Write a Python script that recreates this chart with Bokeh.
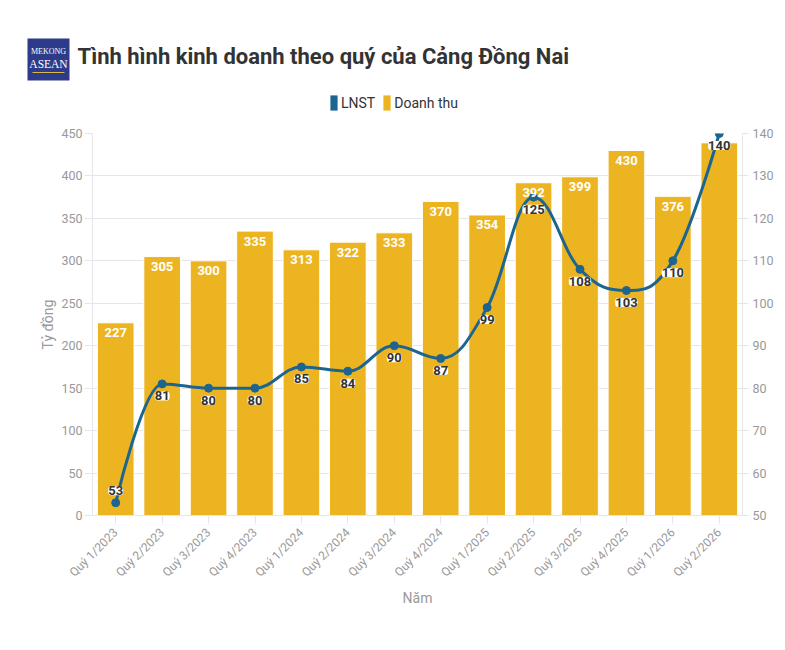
import math
from bokeh.plotting import figure
from bokeh.layouts import column
from bokeh.models import (ColumnDataSource, Range1d, LinearAxis, FactorRange,
                          Legend, LegendItem, SingleIntervalTicker)
from bokeh.core.properties import value
from bokeh.embed import file_html
from bokeh.resources import INLINE

# ---- data ----
quarters = ["Quý 1/2023", "Quý 2/2023", "Quý 3/2023", "Quý 4/2023",
            "Quý 1/2024", "Quý 2/2024", "Quý 3/2024", "Quý 4/2024",
            "Quý 1/2025", "Quý 2/2025", "Quý 3/2025", "Quý 4/2025",
            "Quý 1/2026", "Quý 2/2026"]
doanh_thu = [227, 305, 300, 335, 313, 322, 333, 370, 354, 392, 399, 430, 376, 439]
lnst = [53, 81, 80, 80, 85, 84, 90, 87, 99, 125, 108, 103, 110, 140]

title_text = "Tình hình kinh doanh theo quý của Cảng Đồng Nai"
left_label = "Tỷ đồng"
bottom_label = "Năm"
series_names = ["LNST", "Doanh thu"]

BAR_COLOR = "#EDB421"
LINE_COLOR = "#1C6591"
GRID = "#e6e6e6"
TICK_TXT = "#999999"
FONT = "Roboto"

LEFT_MIN, LEFT_MAX = 0, 450
RIGHT_MIN, RIGHT_MAX = 50, 140
FRAME_W, FRAME_H = 650, 382
HEADER_W, HEADER_H = 777, 120


def spline_controls(xs, ys, smoothing=1.5):
    """Highcharts-style spline control points."""
    n = len(xs)
    denom = smoothing + 1
    lcx, lcy, rcx, rcy = list(xs), list(ys), list(xs), list(ys)
    for i in range(1, n - 1):
        x, y = xs[i], ys[i]
        lx, ly = xs[i - 1], ys[i - 1]
        nx, ny = xs[i + 1], ys[i + 1]
        lX = (smoothing * x + lx) / denom
        lY = (smoothing * y + ly) / denom
        rX = (smoothing * x + nx) / denom
        rY = (smoothing * y + ny) / denom
        if rX != lX:
            corr = ((rY - lY) * (rX - x)) / (rX - lX) + y - rY
            lY += corr
            rY += corr
        if lY > ly and lY > y:
            lY = max(ly, y); rY = 2 * y - lY
        elif lY < ly and lY < y:
            lY = min(ly, y); rY = 2 * y - lY
        if rY > ny and rY > y:
            rY = max(ny, y); lY = 2 * y - rY
        elif rY < ny and rY < y:
            rY = min(ny, y); lY = 2 * y - rY
        lcx[i], lcy[i], rcx[i], rcy[i] = lX, lY, rX, rY
    seg = dict(x0=[], y0=[], x1=[], y1=[], cx0=[], cy0=[], cx1=[], cy1=[])
    for i in range(1, n):
        seg["x0"].append(xs[i - 1]); seg["y0"].append(ys[i - 1])
        seg["x1"].append(xs[i]); seg["y1"].append(ys[i])
        seg["cx0"].append(rcx[i - 1]); seg["cy0"].append(rcy[i - 1])
        seg["cx1"].append(lcx[i]); seg["cy1"].append(lcy[i])
    return seg


# label placement (below the point unless it would leave the plot)
line_px = [(v - RIGHT_MIN) / (RIGHT_MAX - RIGHT_MIN) * FRAME_H for v in lnst]
line_off = [-12 if px < 20 else 12 for px in line_px]
bar_px = [v / (LEFT_MAX - LEFT_MIN) * FRAME_H - 10 for v in doanh_thu]
bar_txt = []
for b, lp, off, v in zip(bar_px, line_px, line_off, doanh_thu):
    lab_px = lp - off
    bar_txt.append("" if abs(b - lab_px) < 13 else str(v))

src = ColumnDataSource(dict(q=quarters, dt=doanh_thu, ln=lnst,
                            dt_txt=bar_txt, ln_txt=[str(v) for v in lnst],
                            ln_off=line_off))

# ================= header (logo, title, legend) =================
h = figure(x_range=Range1d(0, HEADER_W), y_range=Range1d(HEADER_H, 0),
           width=HEADER_W, height=HEADER_H,
           min_border_left=0, min_border_right=0, min_border_top=0, min_border_bottom=0,
           x_axis_location=None, y_axis_location=None,
           output_backend="svg", toolbar_location=None,
           background_fill_color="white", border_fill_color="white",
           outline_line_color=None, frame_align=False)
h.grid.visible = False
# logo
h.quad(left=[27], right=[69], top=[38], bottom=[80], fill_color="#2D3B8A", line_color=None)
h.quad(left=[32], right=[64], top=[71.5], bottom=[72.5], fill_color="#D9B84A", line_color=None)
h.text(x=[48], y=[51], text=["MEKONG"], text_align="center", text_baseline="middle",
       text_color="white", text_font_size="8px", text_font=value("Liberation Serif"))
h.text(x=[48], y=[63.5], text=["ASEAN"], text_align="center", text_baseline="middle",
       text_color="white", text_font_size="11.5px", text_font=value("Liberation Serif"))
# title
h.text(x=[77], y=[56], text=[title_text], text_align="left", text_baseline="alphabetic",
       text_color="#333333", text_font_size="22px", text_font_style="bold",
       text_font=value(FONT))
# legend swatches (legend-only renderers, their single mark lies outside the view)
sw_line = h.vbar(x=[-100], top=[-90], bottom=[-100], width=1, fill_color=LINE_COLOR,
                 line_color=None, border_radius=3)
sw_bar = h.vbar(x=[-100], top=[-90], bottom=[-100], width=1, fill_color=BAR_COLOR,
                line_color=None, border_radius=3)
legend = Legend(items=[LegendItem(label=series_names[0], renderers=[sw_line]),
                       LegendItem(label=series_names[1], renderers=[sw_bar])],
                orientation="horizontal", location=(329, 8),
                glyph_width=9, glyph_height=19, label_standoff=3, spacing=7,
                padding=0, margin=0, border_line_color=None,
                background_fill_alpha=0, label_text_font_size="14px",
                label_text_color="#333333", label_text_font=FONT, label_height=19,
                label_text_baseline="middle")
h.add_layout(legend)

# ================= main chart =================
p = figure(x_range=FactorRange(factors=quarters, range_padding=0, factor_padding=0),
           y_range=Range1d(LEFT_MIN, LEFT_MAX),
           frame_width=FRAME_W, frame_height=FRAME_H,
           min_border_left=92, min_border_right=35, min_border_top=133 - HEADER_H,
           min_border_bottom=127,
           output_backend="svg", toolbar_location=None,
           background_fill_color="white", border_fill_color="white",
           outline_line_color=None, frame_align=False)
p.extra_y_ranges = {"right": Range1d(RIGHT_MIN, RIGHT_MAX)}

p.xgrid.grid_line_color = None
p.ygrid.grid_line_color = GRID
p.ygrid.ticker = SingleIntervalTicker(interval=50)

ya = p.yaxis[0]
ya.ticker = SingleIntervalTicker(interval=50)
ya.axis_line_color = GRID
ya.major_tick_line_color = GRID
ya.major_tick_out = 8
ya.major_tick_in = 0
ya.minor_tick_line_color = None
ya.major_label_standoff = 2
ya.major_label_text_color = TICK_TXT
ya.major_label_text_font_size = "12.5px"
ya.major_label_text_font = FONT
ya.axis_label = left_label
ya.axis_label_text_color = TICK_TXT
ya.axis_label_text_font_size = "14px"
ya.axis_label_text_font_style = "normal"
ya.axis_label_text_font = FONT
ya.axis_label_standoff = 2

ra = LinearAxis(y_range_name="right", ticker=SingleIntervalTicker(interval=10))
ra.axis_line_color = GRID
ra.major_tick_line_color = GRID
ra.major_tick_out = 6
ra.major_tick_in = 0
ra.minor_tick_line_color = None
ra.major_label_standoff = 4
ra.major_label_text_color = TICK_TXT
ra.major_label_text_font_size = "12.5px"
ra.major_label_text_font = FONT
p.add_layout(ra, "right")

xa = p.xaxis[0]
xa.axis_line_color = GRID
xa.major_tick_line_color = GRID
xa.major_tick_out = 8
xa.major_tick_in = 0
xa.major_label_orientation = math.pi / 4
xa.major_label_standoff = 7
xa.major_label_text_color = TICK_TXT
xa.major_label_text_font_size = "12px"
xa.major_label_text_font = FONT
xa.axis_label = bottom_label
xa.axis_label_text_color = TICK_TXT
xa.axis_label_text_font_size = "14px"
xa.axis_label_text_font_style = "normal"
xa.axis_label_text_font = FONT
xa.axis_label_standoff = 3

# series marks
bars = p.vbar(x="q", top="dt", width=0.79, source=src,
              fill_color=BAR_COLOR, line_color="white", line_width=1)
xs = [i + 0.5 for i in range(len(lnst))]
seg = spline_controls(xs, lnst)
p.bezier(x0="x0", y0="y0", x1="x1", y1="y1", cx0="cx0", cy0="cy0", cx1="cx1", cy1="cy1",
         source=ColumnDataSource(seg), y_range_name="right",
         line_color=LINE_COLOR, line_width=3)
p.scatter(x="q", y="ln", source=src, y_range_name="right", size=8,
          fill_color=LINE_COLOR, line_color=LINE_COLOR)

# data labels (drawn above all series)
p.text(x="q", y="dt", text="dt_txt", source=src, text_align="center",
       text_baseline="middle", y_offset=10, text_color="white",
       text_font_style="bold", text_font_size="13px", text_font=value(FONT))
p.text(x="q", y="ln", text="ln_txt", source=src, y_range_name="right",
       text_align="center", text_baseline="middle", y_offset="ln_off",
       text_color="#333333", text_font_style="bold", text_font_size="13px",
       text_font=value(FONT), text_line_height=1.0,
       background_fill_color="white", padding=0, border_radius=3)

layout = column(h, p, spacing=0)
open("out.html", "w").write(file_html(layout, INLINE))
